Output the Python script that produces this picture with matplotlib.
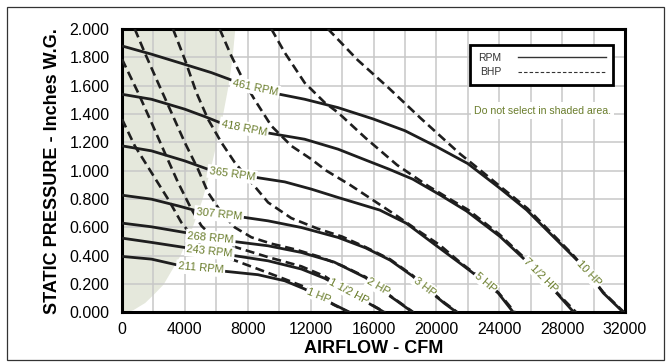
import numpy as np
import matplotlib
matplotlib.use("Agg")
import matplotlib.pyplot as plt
from matplotlib.patches import Rectangle
from matplotlib.lines import Line2D

plt.rcParams['font.family'] = ['Liberation Sans', 'DejaVu Sans']
plt.rcParams['lines.scale_dashes'] = False

LABEL_GREEN = '#6a7d2c'
LINE_COLOR = '#1e1e1e'
SHADE_COLOR = '#e5e8dc'
GRID_COLOR = '#c8c8c8'

# shaded "do not select" region (boundary airflow vs static pressure)
shade_cfm = [0, 300, 700, 1440, 2000, 2610, 3670, 4450, 5090, 5580, 6000, 6400, 6740, 7000, 7170]
shade_sp = [0, 0.005, 0.02, 0.07, 0.13, 0.2, 0.4, 0.6, 0.8, 1.0, 1.2, 1.4, 1.6, 1.8, 2.0]

# fan RPM curves
rpm_461_cfm = [0, 1870, 3990, 5680, 6950, 8500, 10030, 11620, 13740, 15980, 18000, 20000, 22000, 24040, 25740, 27220, 28710, 29350, 30620, 31900]
rpm_461_sp = [1.88, 1.822, 1.75, 1.692, 1.64, 1.585, 1.539, 1.504, 1.445, 1.365, 1.282, 1.17, 1.05, 0.876, 0.723, 0.559, 0.395, 0.324, 0.137, 0.0]
rpm_418_cfm = [0, 1870, 3990, 5260, 6210, 7800, 9390, 11620, 13740, 15500, 17000, 18500, 20220, 21920, 24040, 25520, 27750, 28750]
rpm_418_sp = [1.539, 1.504, 1.434, 1.382, 1.34, 1.30, 1.264, 1.222, 1.152, 1.075, 1.01, 0.94, 0.83, 0.715, 0.536, 0.383, 0.125, 0.0]
rpm_365_cfm = [0, 1870, 3990, 5470, 7000, 8540, 10350, 12040, 13740, 16400, 18100, 19800, 21490, 22340, 23930, 24900]
rpm_365_sp = [1.175, 1.14, 1.069, 1.01, 0.975, 0.952, 0.921, 0.87, 0.811, 0.722, 0.628, 0.487, 0.348, 0.277, 0.137, 0.0]
rpm_307_cfm = [0, 1870, 3560, 4730, 6200, 7800, 9290, 11410, 13740, 15500, 17050, 18500, 19600, 20500, 21300]
rpm_307_sp = [0.827, 0.799, 0.752, 0.717, 0.69, 0.67, 0.646, 0.599, 0.529, 0.455, 0.369, 0.255, 0.148, 0.065, 0.0]
rpm_268_cfm = [0, 1870, 3990, 5500, 7270, 9290, 11410, 13500, 15500, 16400, 17500, 18500]
rpm_268_sp = [0.63, 0.604, 0.564, 0.53, 0.498, 0.47, 0.423, 0.355, 0.245, 0.165, 0.08, 0.0]
rpm_243_cfm = [0, 1870, 3990, 5500, 7170, 9290, 11410, 12900, 14400, 15600, 16700]
rpm_243_sp = [0.524, 0.494, 0.458, 0.43, 0.40, 0.364, 0.306, 0.24, 0.148, 0.07, 0.0]
rpm_211_cfm = [0, 1870, 3460, 5000, 6640, 8650, 10350, 11620, 12500, 13500, 14500]
rpm_211_sp = [0.395, 0.376, 0.336, 0.31, 0.289, 0.266, 0.223, 0.165, 0.115, 0.055, 0.0]

rpm_labels = ['461 RPM', '418 RPM', '365 RPM', '307 RPM', '268 RPM', '243 RPM', '211 RPM']
rpm_label_cfm = [8480, 7760, 7000, 6170, 5640, 5580, 5000]
rpm_label_rot = [-12, -11, -8, -6, -5, -6, -5]

# brake horsepower curves
hp_10_cfm = [13100, 15000, 17000, 19000, 21510, 22500, 24100, 25800, 27250, 28700, 29350, 30620, 31950]
hp_10_sp = [2.0, 1.78, 1.58, 1.37, 1.118, 1.03, 0.885, 0.733, 0.568, 0.405, 0.32, 0.142, 0.0]
hp_7_5_cfm = [9500, 10350, 11620, 12900, 13740, 15500, 17500, 19500, 21080, 22000, 24040, 25520, 27750, 28900]
hp_7_5_sp = [2.0, 1.833, 1.62, 1.48, 1.41, 1.23, 1.04, 0.89, 0.785, 0.725, 0.548, 0.393, 0.13, 0.0]
hp_5_cfm = [6210, 6950, 7800, 8440, 9500, 10770, 12040, 13000, 14500, 16000, 17500, 19000, 20220, 21490, 22340, 23930, 25000]
hp_5_sp = [2.0, 1.81, 1.62, 1.5, 1.316, 1.175, 1.081, 1.0, 0.9, 0.79, 0.68, 0.565, 0.475, 0.355, 0.283, 0.142, 0.0]
hp_3_cfm = [3240, 3990, 4730, 5470, 6320, 7170, 8230, 9290, 10770, 12470, 14000, 15500, 17050, 18500, 19600, 20500, 21350]
hp_3_sp = [2.0, 1.786, 1.551, 1.363, 1.199, 1.058, 0.917, 0.776, 0.665, 0.59, 0.535, 0.46, 0.375, 0.26, 0.15, 0.07, 0.0]
hp_2_cfm = [810, 1440, 2290, 3140, 3990, 4830, 5470, 6320, 7170, 8230, 9500, 11000, 12500, 14000, 15500, 16400, 17500, 18550]
hp_2_sp = [2.0, 1.833, 1.62, 1.41, 1.199, 1.011, 0.846, 0.705, 0.60, 0.53, 0.485, 0.445, 0.395, 0.33, 0.25, 0.17, 0.083, 0.0]
hp_1_5_cfm = [0, 1020, 1870, 2710, 3560, 4410, 5050, 5800, 6950, 9290, 11410, 12900, 14400, 15600, 16750]
hp_1_5_sp = [1.786, 1.551, 1.34, 1.128, 0.917, 0.729, 0.611, 0.53, 0.47, 0.39, 0.325, 0.255, 0.148, 0.072, 0.0]
hp_1_cfm = [0, 810, 1870, 2930, 3770, 4620, 5470, 6950, 8650, 10350, 11620, 12500, 13440, 14450]
hp_1_sp = [1.363, 1.175, 0.987, 0.799, 0.635, 0.517, 0.447, 0.376, 0.306, 0.235, 0.18, 0.12, 0.055, 0.0]

hp_labels = ['10 HP', '7 1/2 HP', '5 HP', '3 HP', '2 HP', '1 1/2 HP', '1 HP']
hp_label_cfm = [29670, 26630, 23130, 19280, 16300, 14440, 12530]
hp_label_rot = [-47, -45, -40, -37, -30, -28, -22]

x_ticks = np.arange(0, 32001, 4000)
y_ticks = np.arange(0, 2.001, 0.2)

rpm_curves = [(rpm_461_cfm, rpm_461_sp), (rpm_418_cfm, rpm_418_sp), (rpm_365_cfm, rpm_365_sp),
              (rpm_307_cfm, rpm_307_sp), (rpm_268_cfm, rpm_268_sp), (rpm_243_cfm, rpm_243_sp),
              (rpm_211_cfm, rpm_211_sp)]
hp_curves = [(hp_10_cfm, hp_10_sp), (hp_7_5_cfm, hp_7_5_sp), (hp_5_cfm, hp_5_sp), (hp_3_cfm, hp_3_sp),
             (hp_2_cfm, hp_2_sp), (hp_1_5_cfm, hp_1_5_sp), (hp_1_cfm, hp_1_sp)]

fig = plt.figure(figsize=(6.67, 3.62), dpi=100)
ax = fig.add_axes([0.183, 0.137, 0.754, 0.783])
ax.set_xlim(0, 32000)
ax.set_ylim(0, 2.0)

ax.fill_betweenx(shade_sp, 0, shade_cfm, color=SHADE_COLOR, lw=0, zorder=0.2)

ax.set_xticks(x_ticks)
ax.set_xticks(np.arange(0, 32001, 2000), minor=True)
ax.set_yticks(y_ticks)
ax.set_yticklabels([f"{v:.3f}" for v in y_ticks])
ax.grid(True, which='both', color=GRID_COLOR, lw=1.1)
ax.set_axisbelow(True)
ax.tick_params(which='both', length=0, labelsize=11.5)
ax.tick_params(axis='y', pad=9)
ax.tick_params(axis='x', pad=7)
for s in ax.spines.values():
    s.set_linewidth(2.2)
    s.set_color('black')

for cfm, sp in rpm_curves:
    ax.plot(cfm, sp, color=LINE_COLOR, lw=2.0, solid_capstyle='butt', solid_joinstyle='round', zorder=3)
for cfm, sp in hp_curves:
    ax.plot(cfm, sp, color=LINE_COLOR, lw=1.9, dashes=(6.5, 3.5), zorder=3)

for (cfm, sp), name, lx, rot in zip(rpm_curves, rpm_labels, rpm_label_cfm, rpm_label_rot):
    ax.text(lx, np.interp(lx, cfm, sp), name, color=LABEL_GREEN, fontsize=8,
            rotation=rot, rotation_mode='anchor', ha='center', va='center', zorder=5,
            bbox=dict(facecolor='white', edgecolor='none', pad=1.4))

for (cfm, sp), name, lx, rot in zip(hp_curves, hp_labels, hp_label_cfm, hp_label_rot):
    ax.text(lx, np.interp(lx, cfm, sp), name, color=LABEL_GREEN, fontsize=8,
            rotation=rot, rotation_mode='anchor', ha='center', va='center', zorder=5,
            bbox=dict(facecolor='white', edgecolor='none', pad=1.0))

ax.text(0.836, 0.712, "Do not select in shaded area.", transform=ax.transAxes,
        color=LABEL_GREEN, fontsize=7.6, ha='center', va='center', zorder=5,
        bbox=dict(facecolor='white', edgecolor='none', pad=2.5))

handles = [Line2D([], [], color='#333333', lw=1.0),
           Line2D([], [], color='#333333', lw=0.8, dashes=(2.5, 1.5))]
leg = ax.legend(handles, ['RPM', 'BHP'], loc='upper right', bbox_to_anchor=(0.977, 0.942),
                markerfirst=False, handlelength=8.5, handletextpad=1.6, fontsize=7.5,
                fancybox=False, framealpha=1, edgecolor='black', borderpad=0.7,
                labelspacing=0.45, borderaxespad=0)
leg.get_frame().set_linewidth(2.0)
for t in leg.get_texts():
    t.set_color('#333333')
leg.set_zorder(6)

ax.set_xlabel("AIRFLOW - CFM", fontsize=13, fontweight='bold', labelpad=2)
ax.set_ylabel("STATIC PRESSURE - Inches W.G.", fontsize=13, fontweight='bold', labelpad=6)

fig.patches.append(Rectangle((0.011, 0.006), 0.984, 0.976, transform=fig.transFigure,
                             fill=False, edgecolor='#333333', lw=0.9))

fig.savefig("out.png", dpi=100)
